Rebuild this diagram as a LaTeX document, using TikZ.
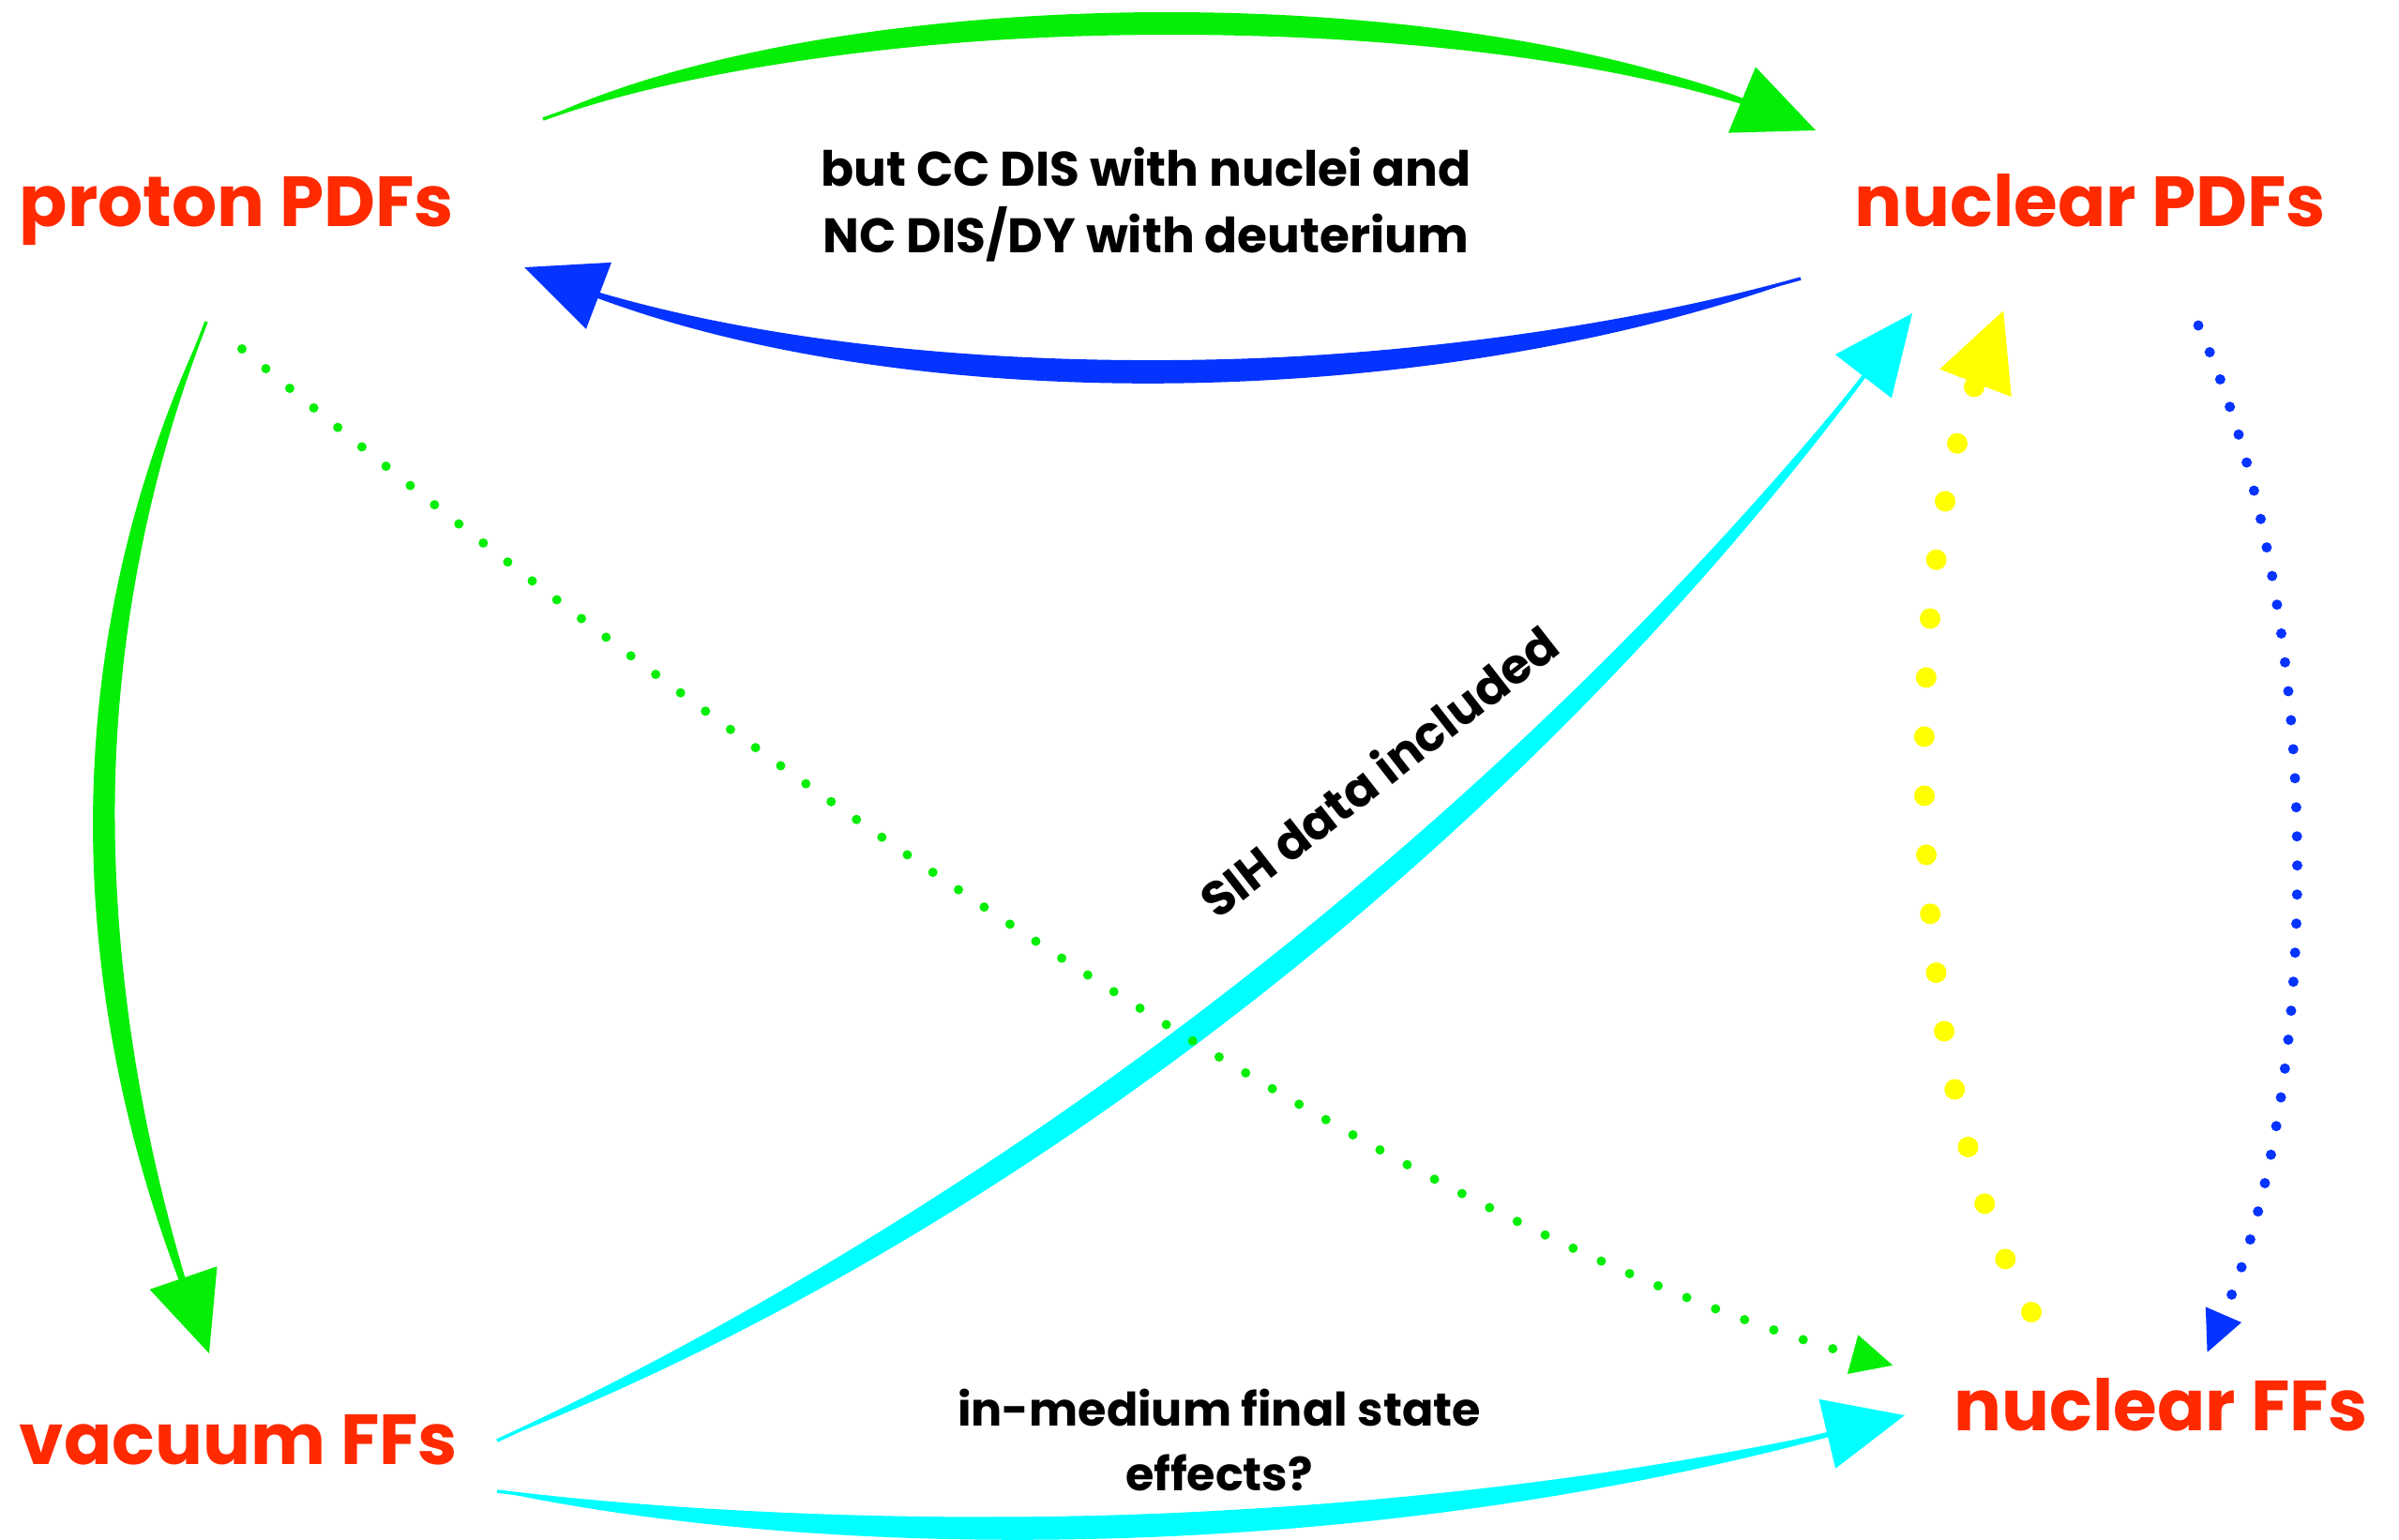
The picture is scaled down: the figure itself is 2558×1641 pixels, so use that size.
\documentclass[tikz,border=0pt]{standalone}
\usepackage{fontspec}
\setmainfont{Poppins}
\usetikzlibrary{arrows.meta,calc}

\definecolor{lblred}{HTML}{FF2A00}
\definecolor{brgreen}{HTML}{05EE05}
\definecolor{brblue}{HTML}{0533FF}
\definecolor{brcyan}{HTML}{00FFFF}
\definecolor{bryellow}{HTML}{FFFF00}

\begin{document}
\begin{tikzpicture}[x=0.01cm, y=-0.01cm,
  redlabel/.style={text=lblred, font=\fontsize{21.5}{25}\selectfont\bfseries, inner sep=0pt, anchor=base west},
  note/.style={font=\fontsize{14.7}{20}\selectfont\bfseries, align=center, inner sep=0pt},
  smallnote/.style={font=\fontsize{14}{19.6}\selectfont\bfseries, align=center, inner sep=0pt},
  bighead/.style={-{Triangle[length=0.85cm,width=0.75cm]}},
  smallhead/.style={-{Triangle[length=0.45cm,width=0.4cm]}},
  spine/.style={line width=1pt, bighead},
  dotsgreen/.style={brgreen, line width=0.1cm, line cap=round, dash pattern=on 0pt off 0.33cm, smallhead},
  dotsyellow/.style={bryellow, line width=0.22cm, line cap=round, dash pattern=on 0pt off 0.63cm, bighead},
  dotsblue/.style={brblue, line width=0.11cm, line cap=round, dash pattern=on 0pt off 0.31cm, -{Triangle[length=0.45cm,width=0.38cm]}},
]
\useasboundingbox (0,0) rectangle (2558,1641);
\fill[white] (0,0) rectangle (2558,1641);

% the four distributions
\node[redlabel] (ppdf) at (20,241) {proton PDFs};
\node[redlabel] (npdf) at (1977,241) {nuclear PDFs};
\node[redlabel] (vff) at (20,1561) {vacuum FFs};
\node[redlabel] (nff) at (2083,1525) {nuclear FFs};

% remarks on the connections
\node[note] (ccdis) at (1222,218) {but CC DIS with nuclei and\\NC DIS/DY with deuterium};
\node[smallnote] (medium) at (1300,1535) {in-medium final state\\effects?};
\node[note, rotate=38] (sih) at (1470,822) {SIH data included};

% end points of the connectors
\coordinate (pp-top) at (579,127);
\coordinate (np-in) at (1936,139);
\coordinate (np-out) at (1920,297);
\coordinate (pp-in) at (559,285);
\coordinate (pp-down) at (220,343);
\coordinate (vf-in) at (223,1443);
\coordinate (vf-up) at (530,1536);
\coordinate (np-cyan) at (2039,334);
\coordinate (vf-right) at (530,1590);
\coordinate (nf-cyan) at (2031,1509);
\coordinate (pp-diag) at (258,372);
\coordinate (nf-green) at (2019,1456);
\coordinate (nf-up) at (2166,1399);
\coordinate (np-yellow) at (2137,329);
\coordinate (np-down) at (2344,347);
\coordinate (nf-blue) at (2353,1443);

% proton PDFs -> nuclear PDFs (brush stroke)
\fill[brgreen] (pp-top) .. controls (900,10) and (1600,0) .. (np-in)
  .. controls (1600,-30) and (900,-24) .. (pp-top) -- cycle;
\draw[brgreen, spine] (pp-top) .. controls (900,10) and (1600,0) .. (np-in);

% nuclear PDFs -> proton PDFs
\fill[brblue] (np-out) .. controls (1500,415) and (900,415) .. (pp-in)
  .. controls (900,448) and (1500,448) .. (np-out) -- cycle;
\draw[brblue, spine] (np-out) .. controls (1500,415) and (900,415) .. (pp-in);

% proton PDFs -> vacuum FFs
\fill[brgreen] (pp-down) .. controls (60,750) and (123,1150) .. (vf-in)
  .. controls (92,1150) and (28,750) .. (pp-down) -- cycle;
\draw[brgreen, spine] (pp-down) .. controls (60,750) and (123,1150) .. (vf-in);

% vacuum FFs -> nuclear PDFs
\fill[brcyan] (vf-up) .. controls (1000,1320) and (1600,900) .. (np-cyan)
  .. controls (1620,927) and (1020,1347) .. (vf-up) -- cycle;
\draw[brcyan, spine] (vf-up) .. controls (1000,1320) and (1600,900) .. (np-cyan);

% vacuum FFs -> nuclear FFs
\fill[brcyan] (vf-right) .. controls (900,1636) and (1500,1636) .. (nf-cyan)
  .. controls (1500,1669) and (900,1669) .. (vf-right) -- cycle;
\draw[brcyan, spine] (vf-right) .. controls (900,1636) and (1500,1636) .. (nf-cyan);

% dotted connections
\draw[dotsgreen] (pp-diag) .. controls (734,767) and (1468,1305) .. (nf-green);
\draw[dotsyellow] (nf-up) .. controls (2025,1150) and (2025,620) .. (np-yellow);
\draw[dotsblue] (np-down) .. controls (2480,650) and (2480,1150) .. (nf-blue);
\end{tikzpicture}
\end{document}
